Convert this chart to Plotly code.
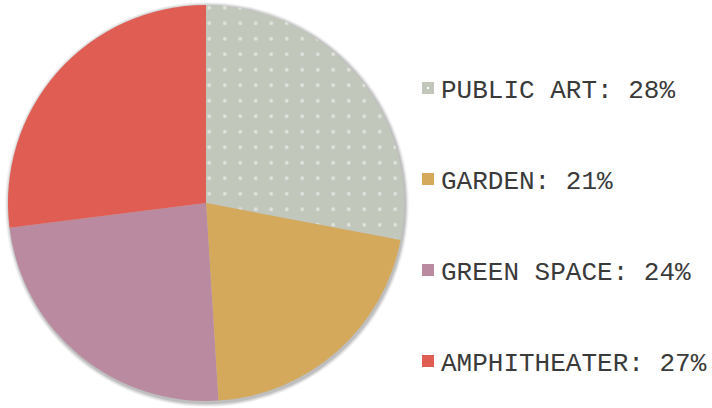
import plotly.graph_objects as go

labels = ["PUBLIC ART", "GARDEN", "GREEN SPACE", "AMPHITHEATER"]
values = [28, 21, 24, 27]
colors = ["#C2C7BC", "#D4A95B", "#BA8BA0", "#E05D54"]
patterns = [".", "", "", ""]

W, H = 712, 408
cx, cy, r = 206, 203, 198

fig = go.Figure()
fig.add_trace(go.Pie(
    labels=labels, values=values, sort=False, direction="clockwise", rotation=0,
    marker=dict(colors=colors, line=dict(width=0),
                pattern=dict(shape=patterns, fgcolor="white", size=15.5, solidity=0.045, fillmode="overlay")),
    textinfo="none", hoverinfo="label+percent", showlegend=False,
    domain=dict(x=[(cx - r) / W, (cx + r) / W], y=[1 - (cy + r) / H, 1 - (cy - r) / H]),
))

shapes = []
# soft shadow
for d, op in [(4, 0.04), (3, 0.06), (2, 0.08), (1, 0.10)]:
    shapes.append(dict(type="circle", xref="paper", yref="paper", layer="below",
                       x0=(cx - r - d + 1) / W, x1=(cx + r + d + 1) / W,
                       y0=1 - (cy + r + d + 2) / H, y1=1 - (cy - r - d + 1) / H,
                       fillcolor=f"rgba(0,0,0,{op})", line=dict(width=0)))

annotations = []
row_y = [91, 182, 273, 364]
for lab, val, col, pat, yy in zip(labels, values, colors, patterns, row_y):
    sy = yy - 3
    shapes.append(dict(type="rect", xref="paper", yref="paper",
                       x0=422 / W, x1=434 / W, y0=1 - (sy + 6) / H, y1=1 - (sy - 6) / H,
                       fillcolor=col, line=dict(width=0)))
    if pat == ".":
        shapes.append(dict(type="rect", xref="paper", yref="paper",
                           x0=427 / W, x1=429 / W, y0=1 - (sy + 1) / H, y1=1 - (sy - 1) / H,
                           fillcolor="white", line=dict(width=0)))
    annotations.append(dict(text=f"{lab}: {val}%", xref="paper", yref="paper",
                            x=439 / W, y=1 - yy / H, xanchor="left", yanchor="middle",
                            showarrow=False,
                            font=dict(family="Liberation Mono, Courier New, monospace", size=26, color="#3a3a3a")))

fig.update_layout(width=W, height=H, margin=dict(l=0, r=0, t=0, b=0),
                  paper_bgcolor="white", plot_bgcolor="white",
                  shapes=shapes, annotations=annotations, showlegend=False)
fig.write_html("out.html", config={"displayModeBar": False},
               post_script="document.body.style.margin='0';document.body.style.overflow='hidden';")
